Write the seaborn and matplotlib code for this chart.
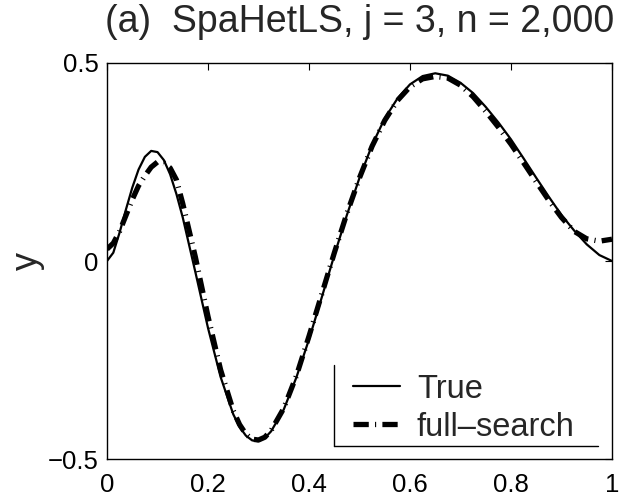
import matplotlib
matplotlib.use("Agg")
import matplotlib.pyplot as plt
import seaborn as sns
import pandas as pd
from matplotlib.lines import Line2D

# Sample positions
x = [0.0, 0.0125, 0.025, 0.0375, 0.05, 0.0625, 0.075, 0.0875, 0.1, 0.1125,
     0.125, 0.1375, 0.15, 0.175, 0.2, 0.225, 0.25, 0.2625, 0.275, 0.2875,
     0.3, 0.3125, 0.325, 0.35, 0.375, 0.4, 0.425, 0.45, 0.475, 0.5,
     0.525, 0.55, 0.575, 0.6, 0.625, 0.65, 0.675, 0.7, 0.725, 0.75,
     0.775, 0.8, 0.825, 0.85, 0.875, 0.9, 0.925, 0.95, 0.975, 1.0]

# True regression function
y_true = [0.0, 0.021, 0.072, 0.130, 0.185, 0.231, 0.263, 0.278, 0.275, 0.255,
          0.219, 0.169, 0.110, -0.028, -0.169, -0.293, -0.387, -0.419, -0.441, -0.453,
          -0.455, -0.447, -0.430, -0.375, -0.294, -0.198, -0.093, 0.014, 0.116, 0.210,
          0.293, 0.360, 0.410, 0.446, 0.467, 0.474, 0.468, 0.450, 0.424, 0.389,
          0.350, 0.307, 0.259, 0.210, 0.162, 0.116, 0.077, 0.042, 0.015, 0.0]

# Full-search estimate
y_fit = [0.030, 0.045, 0.075, 0.115, 0.155, 0.190, 0.215, 0.237, 0.250, 0.248,
         0.235, 0.205, 0.145, 0.010, -0.140, -0.275, -0.378, -0.413, -0.437, -0.450,
         -0.452, -0.445, -0.428, -0.372, -0.290, -0.190, -0.085, 0.020, 0.120, 0.210,
         0.290, 0.355, 0.405, 0.440, 0.460, 0.466, 0.462, 0.444, 0.415, 0.378,
         0.338, 0.295, 0.248, 0.200, 0.153, 0.110, 0.075, 0.056, 0.050, 0.055]

title = "(a)  SpaHetLS, j = 3, n = 2,000"
x_ticks = [0, 0.2, 0.4, 0.6, 0.8, 1]
x_ticklabels = ["0", "0.2", "0.4", "0.6", "0.8", "1"]
y_ticks = [-0.5, 0, 0.5]
y_ticklabels = ["\u22120.5", "0", "0.5"]

sns.set_style("white")
plt.rcParams["font.family"] = ["Liberation Sans", "DejaVu Sans"]
plt.rcParams["lines.scale_dashes"] = False

df = pd.DataFrame({"x": x, "True": y_true, "full\u2013search": y_fit})

fig = plt.figure(figsize=(6.21, 4.98), dpi=100)
ax = fig.add_axes([0.1723, 0.0783, 0.8132, 0.7952])

sns.lineplot(data=df, x="x", y="True", ax=ax, color="black", lw=1.6,
             label="True", sort=False)
sns.lineplot(data=df, x="x", y="full\u2013search", ax=ax, color="black", lw=3.8,
             linestyle=(0, (11, 4.5, 0.8, 4.5)), label="full\u2013search",
             sort=False)
for ln in ax.get_lines():
    ln.set_dash_capstyle("butt")

ax.set_xlim(0, 1)
ax.set_ylim(-0.5, 0.5)
ax.set_xticks(x_ticks)
ax.set_xticklabels(x_ticklabels)
ax.set_yticks(y_ticks)
ax.set_yticklabels(y_ticklabels)
ax.tick_params(direction="in", length=5, width=0.8, top=True, right=True,
               labelsize=18.5, colors="black")
ax.tick_params(axis="x", pad=10)
ax.tick_params(axis="y", pad=6)
ax.set_xlabel("")
ax.set_ylabel("y", fontsize=26, labelpad=2)
ax.set_title(title, fontsize=27, pad=22)
for s in ax.spines.values():
    s.set_color("black")
    s.set_linewidth(1.0)

leg = ax.legend(loc="lower left", bbox_to_anchor=(0.468, 0.016),
                frameon=False, fontsize=23.5, handlelength=1.45,
                handletextpad=0.5, labelspacing=0.22, borderpad=0.3,
                borderaxespad=0)

# Legend border: left and bottom edges
ax.add_line(Line2D([0.4495, 0.4495], [0.033, 0.237], transform=ax.transAxes,
                   color="black", lw=1.0, clip_on=False))
ax.add_line(Line2D([0.4495, 0.972], [0.033, 0.033], transform=ax.transAxes,
                   color="black", lw=1.0, clip_on=False))

fig.savefig("out.png", dpi=100)
